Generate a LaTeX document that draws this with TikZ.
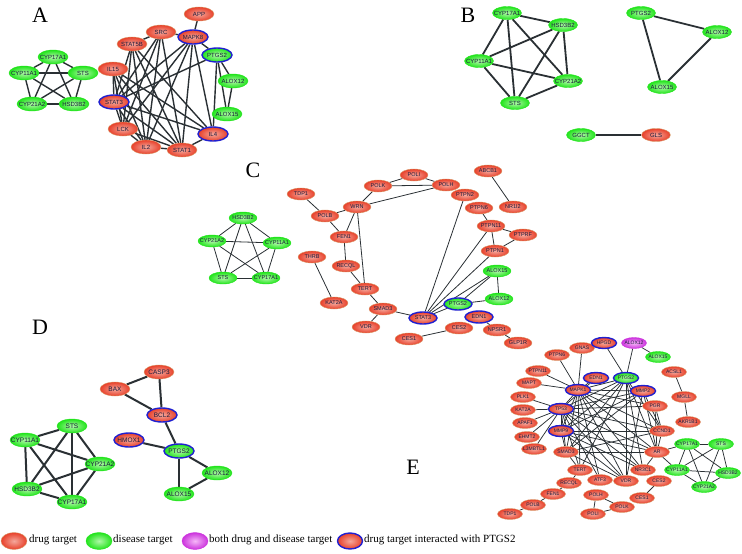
\documentclass[tikz,border=0pt]{standalone}
\usepackage{fontspec}
\setmainfont{Liberation Serif}
\newfontfamily\lab{Liberation Sans}
\usetikzlibrary{shapes.geometric,backgrounds}
\definecolor{rin}{HTML}{F4A89C}
\definecolor{rout}{HTML}{E8402A}
\definecolor{rbor}{HTML}{D89A6A}
\definecolor{gin}{HTML}{B0F8A8}
\definecolor{gout}{HTML}{22E41C}
\definecolor{min}{HTML}{F6B8F8}
\definecolor{mout}{HTML}{CC33DD}
\definecolor{bbor}{HTML}{2020D0}
\definecolor{edge}{HTML}{2A3034}
\definecolor{txt}{HTML}{1A1A3C}
\newcommand\N[5]{\node[#1,s#2,label={[f#2]center:#5}] (#3) at (#4) {};}
\newcommand\kfive[2]{\foreach \u/\v in {CYP17A1/CYP11A1,CYP17A1/STS,CYP17A1/CYP21A2,CYP17A1/HSD3B2,CYP11A1/STS,CYP11A1/CYP21A2,CYP11A1/HSD3B2,STS/CYP21A2,STS/HSD3B2,CYP21A2/HSD3B2}{\path[#2] (#1\u) -- (#1\v);}}
\begin{document}
\begin{tikzpicture}[x=1pt,y=-1pt,
  base/.style={ellipse,inner sep=0pt,shading=radial},
  rn/.style={base,inner color=rin,outer color=rout,draw=rbor,line width=0.4pt},
  rb/.style={base,inner color=rin,outer color=rout,draw=bbor,line width=1.4pt},
  gn/.style={base,inner color=gin,outer color=gout,draw=gout,line width=0.4pt},
  gb/.style={base,inner color=gin,outer color=gout,draw=bbor,line width=1.4pt},
  mn/.style={base,inner color=min,outer color=mout,draw=mout,line width=0.4pt},
  sA/.style={minimum width=30pt,minimum height=14pt},
  sB/.style={minimum width=29pt,minimum height=13pt},
  sC/.style={minimum width=28pt,minimum height=12pt},
  sD/.style={minimum width=30pt,minimum height=14pt},
  sE/.style={minimum width=25pt,minimum height=11pt},
  fA/.style={font=\lab\fontsize{6}{6}\selectfont,text=txt,inner sep=0pt},
  fB/.style={font=\lab\fontsize{6}{6}\selectfont,text=txt,inner sep=0pt},
  fC/.style={font=\lab\fontsize{5.5}{5.5}\selectfont,text=txt,inner sep=0pt},
  fD/.style={font=\lab\fontsize{6.5}{6.5}\selectfont,text=txt,inner sep=0pt},
  fE/.style={font=\lab\fontsize{5}{5}\selectfont,text=txt,inner sep=0pt},
  panel/.style={font=\fontsize{22}{22}\selectfont},
  eA/.style={draw=edge,line width=1.4pt},
  eB/.style={draw=edge,line width=1.8pt},
  eC/.style={draw=edge,line width=0.8pt},
  eD/.style={draw=edge,line width=2pt},
  eE/.style={draw=edge,line width=0.75pt},
  leg/.style={font=\fontsize{11}{11}\selectfont,anchor=west,inner sep=0pt}]
\useasboundingbox (0,0) rectangle (742,554);
% panel labels
\node[panel] (labA) at (40,15) {A};
\node[panel] (labB) at (468,15) {B};
\node[panel] (labC) at (253,170) {C};
\node[panel] (labD) at (40,327) {D};
\node[panel] (labE) at (413,467) {E};
% ---------- A ----------
\N{gn}{A}{aCYP17A1}{53,57}{CYP17A1}
\N{gn}{A}{aCYP11A1}{24,73}{CYP11A1}
\N{gn}{A}{aSTS}{83,73}{STS}
\N{gn}{A}{aCYP21A2}{32,104}{CYP21A2}
\N{gn}{A}{aHSD3B2}{74,104}{HSD3B2}
\N{rn}{A}{aAPP}{199,14}{APP}
\N{rn}{A}{aSRC}{161,32}{SRC}
\N{rb}{A}{aMAPK8}{193,37}{MAPK8}
\N{rn}{A}{aSTAT5B}{132,44}{STAT5B}
\N{gb}{A}{aPTGS2}{217,55}{PTGS2}
\N{rn}{A}{aIL15}{113,69}{IL15}
\N{gn}{A}{aALOX12}{233,81}{ALOX12}
\N{rb}{A}{aSTAT3}{114,102}{STAT3}
\N{gn}{A}{aALOX15}{227,114}{ALOX15}
\N{rn}{A}{aLCK}{123,129}{LCK}
\N{rb}{A}{aIL4}{213,134}{IL4}
\N{rn}{A}{aIL2}{146,147}{IL2}
\N{rn}{A}{aSTAT1}{182,150}{STAT1}
% ---------- B ----------
\N{gn}{B}{bCYP17A1}{507,13}{CYP17A1}
\N{gn}{B}{bHSD3B2}{563,25}{HSD3B2}
\N{gn}{B}{bCYP11A1}{479,61}{CYP11A1}
\N{gn}{B}{bCYP21A2}{568,81}{CYP21A2}
\N{gn}{B}{bSTS}{515,103}{STS}
\N{gn}{B}{bPTGS2}{641,13}{PTGS2}
\N{gn}{B}{bALOX12}{717,32}{ALOX12}
\N{gn}{B}{bALOX15}{662,87}{ALOX15}
\N{gn}{B}{bGGCT}{581,135}{GGCT}
\N{rn}{B}{bGLS}{656,135}{GLS}
% ---------- C ----------
\N{gn}{C}{cHSD3B2}{243,218}{HSD3B2}
\N{gn}{C}{cCYP11A1}{277,243}{CYP11A1}
\N{gn}{C}{cCYP17A1}{266,278}{CYP17A1}
\N{gn}{C}{cSTS}{223,278}{STS}
\N{gn}{C}{cCYP21A2}{212,241}{CYP21A2}
\N{rn}{C}{cPOLI}{414,175}{POLI}
\N{rn}{C}{cPOLK}{378,186}{POLK}
\N{rn}{C}{cPOLH}{446,185}{POLH}
\N{rn}{C}{cABCB1}{488,171}{ABCB1}
\N{rn}{C}{cTDP1}{301,194}{TDP1}
\N{rn}{C}{cPTPN2}{465,195}{PTPN2}
\N{rn}{C}{cWRN}{357,207}{WRN}
\N{rn}{C}{cPOLB}{325,216}{POLB}
\N{rn}{C}{cPTPN6}{479,208}{PTPN6}
\N{rn}{C}{cNRlI2}{513,207}{NR1I2}
\N{rn}{C}{cPTPN11}{491,226}{PTPN11}
\N{rn}{C}{cFEN1}{344,237}{FEN1}
\N{rn}{C}{cPTPRF}{523,235}{PTPRF}
\N{rn}{C}{cTHRB}{312,257}{THRB}
\N{rn}{C}{cRECQL}{346,266}{RECQL}
\N{rn}{C}{cPTPN1}{495,251}{PTPN1}
\N{gn}{C}{cALOX15}{497,271}{ALOX15}
\N{rn}{C}{cTERT}{365,289}{TERT}
\N{rn}{C}{cKAT2A}{334,303}{KAT2A}
\N{gn}{C}{cALOX12}{499,299}{ALOX12}
\N{gb}{C}{cPTGS2}{458,304}{PTGS2}
\N{rn}{C}{cSMAD3}{383,309}{SMAD3}
\N{rb}{C}{cEDN1}{479,317}{EDN1}
\N{rb}{C}{cSTAT3}{423,318}{STAT3}
\N{rn}{C}{cVDR}{366,327}{VDR}
\N{rn}{C}{cCES2}{459,328}{CES2}
\N{rn}{C}{cNPSR1}{497,330}{NPSR1}
\N{rn}{C}{cCES1}{409,339}{CES1}
\N{rn}{C}{cGLP1R}{518,343}{GLP1R}
% ---------- D ----------
\N{rn}{D}{dCASP3}{159,372}{CASP3}
\N{rn}{D}{dBAX}{115,389}{BAX}
\N{rb}{D}{dBCL2}{162,415}{BCL2}
\N{gn}{D}{dSTS}{72,426}{STS}
\N{gn}{D}{dCYP11A1}{25,440}{CYP11A1}
\N{rb}{D}{dHMOX1}{129,440}{HMOX1}
\N{gb}{D}{dPTGS2}{179,451}{PTGS2}
\N{gn}{D}{dCYP21A2}{100,464}{CYP21A2}
\N{gn}{D}{dALOX12}{217,473}{ALOX12}
\N{gn}{D}{dHSD3B2}{27,489}{HSD3B2}
\N{gn}{D}{dALOX15}{179,494}{ALOX15}
\N{gn}{D}{dCYP17A1}{72,502}{CYP17A1}
% ---------- E ----------
\N{rn}{E}{eGNAS}{582,348}{GNAS}
\N{rb}{E}{eHPGD}{604,343}{HPGD}
\N{mn}{E}{eALOX12}{634,343}{ALOX12}
\N{rn}{E}{ePTPN6}{557,355}{PTPN6}
\N{gn}{E}{eALOX15}{658,357}{ALOX15}
\N{rn}{E}{ePTPN11}{538,371}{PTPN11}
\N{rn}{E}{eACSL1}{674,372}{ACSL1}
\N{rb}{E}{eEDN1}{596,378}{EDN1}
\N{gb}{E}{ePTGS2}{626,378}{PTGS2}
\N{rn}{E}{eMAPT}{529,383}{MAPT}
\N{rb}{E}{eMAPK1}{578,390}{MAPK1}
\N{rb}{E}{eMMP2}{643,391}{MMP2}
\N{rn}{E}{eMGLL}{684,397}{MGLL}
\N{rn}{E}{ePLK1}{523,397}{PLK1}
\N{rn}{E}{ePGR}{655,406}{PGR}
\N{rb}{E}{eTP53}{561,409}{TP53}
\N{rn}{E}{eKAT2A}{523,410}{KAT2A}
\N{rn}{E}{eAKR1B1}{688,422}{AKR1B1}
\N{rn}{E}{eAPAF1}{525,423}{APAF1}
\N{rb}{E}{eMMP9}{561,431}{MMP9}
\N{rn}{E}{eCCND1}{662,431}{CCND1}
\N{rn}{E}{eEHMT2}{527,437}{EHMT2}
\N{gn}{E}{eCYP17A1}{687,444}{CYP17A1}
\N{gn}{E}{eSTS}{721,444}{STS}
\N{rn}{E}{eLMBTL}{534,449}{L3MBTL1}
\N{rn}{E}{eSMAD3}{566,452}{SMAD3}
\N{rn}{E}{eAR}{657,452}{AR}
\N{gn}{E}{eCYP11A1}{677,470}{CYP11A1}
\N{gn}{E}{eHSD3B2}{728,473}{HSD3B2}
\N{rn}{E}{eTERT}{580,470}{TERT}
\N{rn}{E}{eNR3C1}{643,470}{NR3C1}
\N{rn}{E}{eATF3}{600,480}{ATF3}
\N{rn}{E}{eVDR}{626,481}{VDR}
\N{rn}{E}{eCES2}{659,481}{CES2}
\N{rn}{E}{eRECQL}{569,483}{RECQL}
\N{gn}{E}{eCYP21A2}{704,487}{CYP21A2}
\N{rn}{E}{eFEN1}{553,494}{FEN1}
\N{rn}{E}{ePOLH}{596,495}{POLH}
\N{rn}{E}{eCES1}{642,498}{CES1}
\N{rn}{E}{ePOLB}{533,505}{POLB}
\N{rn}{E}{ePOLK}{622,507}{POLK}
\N{rn}{E}{eTDP1}{510,514}{TDP1}
\N{rn}{E}{ePOLI}{593,514}{POLI}
% ---------- legend ----------
\node[rn,minimum width=26pt,minimum height=17pt] (lg1) at (14,541) {};
\node[leg] (lt1) at (29,540) {drug target};
\node[gn,minimum width=26pt,minimum height=17pt] (lg2) at (99,541) {};
\node[leg] (lt2) at (113,540) {disease target};
\node[mn,minimum width=26pt,minimum height=17pt] (lg3) at (195,541) {};
\node[leg] (lt3) at (209,540) {both drug and disease target};
\node[rb,minimum width=25pt,minimum height=16pt] (lg4) at (350,541) {};
\node[leg] (lt4) at (364,540) {drug target interacted with PTGS2};
% ---------- edges ----------
\begin{scope}[on background layer]
\kfive{a}{eA}
\kfive{b}{eB}
\kfive{c}{eC}
\kfive{d}{eD}
\kfive{e}{eE}
% A
\foreach \u/\v in {APP/MAPK8,SRC/MAPK8,SRC/STAT5B,MAPK8/PTGS2,PTGS2/ALOX12,PTGS2/ALOX15,ALOX12/ALOX15,PTGS2/IL4,PTGS2/STAT3,
  MAPK8/IL4,MAPK8/STAT3,MAPK8/LCK,MAPK8/IL2,MAPK8/STAT1,SRC/STAT3,SRC/LCK,SRC/IL2,SRC/STAT1,
  STAT5B/STAT3,STAT5B/LCK,STAT5B/IL2,STAT5B/STAT1,STAT5B/IL4,IL15/STAT3,IL15/IL2,IL15/STAT1,IL15/IL4,IL15/LCK,
  STAT3/LCK,STAT3/IL2,STAT3/STAT1,STAT3/IL4,LCK/IL2,LCK/STAT1,IL2/STAT1,STAT1/IL4}
  \path[eA] (a\u) -- (a\v);
% B
\foreach \u/\v in {PTGS2/ALOX12,PTGS2/ALOX15,ALOX12/ALOX15,GGCT/GLS}
  \path[eB] (b\u) -- (b\v);
% C
\foreach \u/\v in {POLK/POLI,POLI/POLH,POLK/POLH,WRN/POLK,WRN/POLH,TDP1/POLB,POLB/WRN,POLB/FEN1,WRN/FEN1,WRN/TERT,
  FEN1/RECQL,RECQL/TERT,TERT/SMAD3,SMAD3/VDR,SMAD3/STAT3,THRB/KAT2A,ABCB1/NRlI2,PTPN6/PTPN11,PTPN11/PTPRF,
  PTPN11/PTPN1,PTPRF/PTPN1,STAT3/PTPN2,STAT3/PTPN11,STAT3/PTPN1,STAT3/ALOX15,STAT3/PTGS2,PTGS2/ALOX15,
  PTGS2/ALOX12,ALOX15/ALOX12,EDN1/NPSR1,NPSR1/GLP1R,CES1/CES2}
  \path[eC] (c\u) -- (c\v);
% D
\foreach \u/\v in {BAX/CASP3,BAX/BCL2,CASP3/BCL2,BCL2/PTGS2,HMOX1/PTGS2,PTGS2/ALOX12,PTGS2/ALOX15,ALOX12/ALOX15}
  \path[eD] (d\u) -- (d\v);
% E
\foreach \u/\v in {GNAS/MAPK1,PTPN6/MAPK1,PTPN11/MAPK1,MAPT/MAPK1,HPGD/PTGS2,ALOX12/PTGS2,ALOX12/ALOX15,
  PLK1/TP53,KAT2A/TP53,APAF1/TP53,EHMT2/TP53,LMBTL/TP53,ACSL1/MGLL,MGLL/AKR1B1,TERT/RECQL,RECQL/FEN1,
  FEN1/POLB,POLB/TDP1,POLH/POLI,POLH/POLK,POLI/POLK,CES1/CES2,AR/CYP17A1,AR/CYP11A1,
  PTGS2/MMP9,PTGS2/SMAD3,PTGS2/AR,PTGS2/CCND1,PTGS2/NR3C1,PTGS2/VDR,PTGS2/TERT,
  MMP2/MMP9,MMP2/SMAD3,MMP2/AR,MMP2/CCND1,MMP2/VDR,
  MMP9/SMAD3,MMP9/AR,MMP9/CCND1,MMP9/VDR,MMP9/NR3C1,
  SMAD3/AR,SMAD3/CCND1,SMAD3/TERT,SMAD3/VDR,AR/CCND1,AR/NR3C1,AR/PGR,CCND1/PGR}
  \path[eE] (e\u) -- (e\v);
\foreach \h in {MAPK1,TP53}
  \foreach \t in {EDN1,PTGS2,MMP2,MMP9,SMAD3,TERT,ATF3,VDR,NR3C1,AR,CCND1,PGR}
    \path[eE] (e\h) -- (e\t);
\path[eE] (eMAPK1) -- (eTP53);
\end{scope}
\end{tikzpicture}
\end{document}
